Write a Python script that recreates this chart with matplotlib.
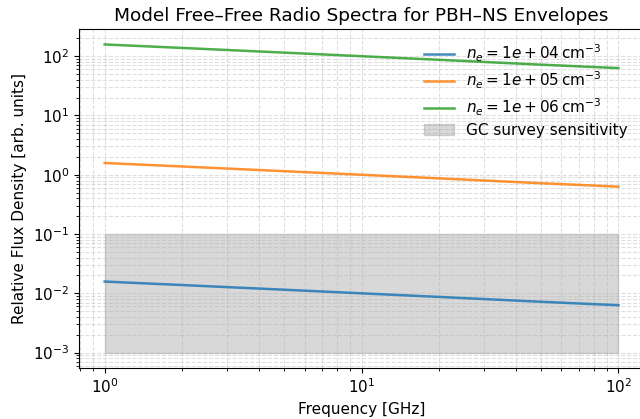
import matplotlib.pyplot as plt
import numpy as np

# frequencies [GHz] and relative flux
freq = [1, 2, 5, 10, 20, 50, 100]
flux_1e4 = [0.0158, 0.0138, 0.0115, 0.0100, 0.0087, 0.0072, 0.0063]
flux_1e5 = [1.58, 1.38, 1.15, 1.00, 0.87, 0.72, 0.63]
flux_1e6 = [158, 138, 115, 100, 87, 72, 63]
densities = ['1e+04', '1e+05', '1e+06']

# survey sensitivity band
band_x = [1, 100]
band_lo = 1e-3
band_hi = 1e-1

fig = plt.figure(figsize=(6.4, 4.19), dpi=100)
# the reference is cropped on the right, so the axes run slightly past the edge
ax = fig.add_axes([0.1234, 0.1217, 0.883, 0.809])

for dens, flux in zip(densities, [flux_1e4, flux_1e5, flux_1e6]):
    ax.plot(freq, flux, lw=1.8, alpha=0.85,
            label=r'$n_e = %s\,\mathrm{cm^{-3}}$' % dens)

ax.fill_between(band_x, band_lo, band_hi, color='gray', alpha=0.3,
                label='GC survey sensitivity')

ax.set_xscale('log')
ax.set_yscale('log')
ax.set_xlabel('Frequency [GHz]', fontsize=11)
ax.set_ylabel('Relative Flux Density [arb. units]', fontsize=11)
ax.set_title('Model Free–Free Radio Spectra for PBH–NS Envelopes', fontsize=13.3)
ax.tick_params(labelsize=11)
ax.grid(True, which='both', ls='--', alpha=0.4)
ax.legend(fontsize=11, loc='upper right', frameon=False, labelspacing=0.35,
          bbox_to_anchor=(0.996, 1.0))

plt.savefig('out.png', dpi=100)
